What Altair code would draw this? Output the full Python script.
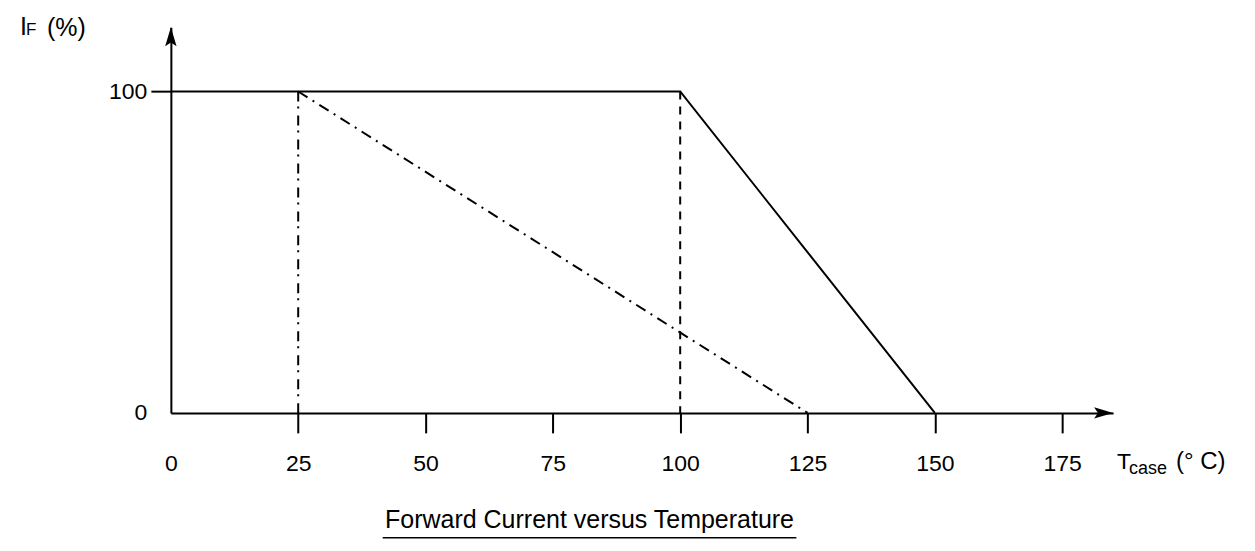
import altair as alt
import pandas as pd

# ---- data ----
solid_x = [0, 100, 150]
solid_y = [100, 100, 0]
dash_x = [100, 100]
dash_y = [100, 0]
dashdot_v_x = [25, 25]
dashdot_v_y = [100, 0]
dashdot_d_x = [25, 125]
dashdot_d_y = [100, 0]

x_ticks = [0, 25, 50, 75, 100, 125, 150, 175]
y_ticks = [0, 100]
x_max = 185
y_max = 120

FONT = "Liberation Sans"

x_scale = alt.Scale(domain=[0, x_max], nice=False, zero=False)
y_scale = alt.Scale(domain=[0, y_max], nice=False, zero=False)

no_zero_tick = {"condition": {"test": "datum.value === 0", "value": 0}, "value": 1}

x_axis = alt.Axis(values=x_ticks, title=None, grid=False, domain=True, domainColor="black",
                  domainWidth=2, ticks=True, tickSize=20, tickWidth=2, tickColor="black",
                  tickOpacity=no_zero_tick, labelPadding=20, labelFont=FONT, labelFontSize=23,
                  labelColor="black", labelBaseline="top", labelFlush=False, labelOverlap=False)
y_axis = alt.Axis(values=y_ticks, title=None, grid=False, domain=True, domainColor="black",
                  domainWidth=2, ticks=True, tickSize=20, tickWidth=2, tickColor="black",
                  tickOpacity=no_zero_tick, labelPadding=4, labelFont=FONT, labelFontSize=23,
                  labelColor="black", labelFlush=False, labelOverlap=False)


def line_layer(xs, ys, dash=None, width=2):
    df = pd.DataFrame({"x": xs, "y": ys, "i": list(range(len(xs)))})
    kw = dict(color="black", strokeWidth=width, clip=False)
    if dash:
        kw["strokeDash"] = dash
    return alt.Chart(df).mark_line(**kw).encode(
        x=alt.X("x:Q", scale=x_scale, axis=x_axis),
        y=alt.Y("y:Q", scale=y_scale, axis=y_axis),
        order="i:Q",
    )


solid = line_layer(solid_x, solid_y, width=2)
dashed = line_layer(dash_x, dash_y, dash=[8, 7], width=2)
dd_v = line_layer(dashdot_v_x, dashdot_v_y, dash=[10, 5, 2, 7], width=2)
dd_d = line_layer(dashdot_d_x, dashdot_d_y, dash=[11, 6, 2, 6], width=2)

up_arrow = alt.Chart(pd.DataFrame({"x": [0], "y": [y_max]})).mark_point(
    shape="M0,0 L0.3,1 L0,0.8 L-0.3,1 Z", size=1444, filled=True, color="black",
    opacity=1, strokeWidth=0, clip=False
).encode(x=alt.X("x:Q", scale=x_scale), y=alt.Y("y:Q", scale=y_scale))

right_arrow = alt.Chart(pd.DataFrame({"x": [x_max], "y": [0]})).mark_point(
    shape="M0,0 L-1,-0.3 L-0.8,0 L-1,0.3 Z", size=1444, filled=True, color="black",
    opacity=1, strokeWidth=0, clip=False
).encode(x=alt.X("x:Q", scale=x_scale), y=alt.Y("y:Q", scale=y_scale))


def text_layer(txt, px, py, size, align="left"):
    return alt.Chart(alt.Data(values=[{"t": txt}])).mark_text(
        font=FONT, fontSize=size, color="black", align=align, baseline="alphabetic"
    ).encode(text="t:N", x=alt.value(px), y=alt.value(py))


texts = [
    text_layer("I", -151, 8, 25),
    text_layer("F", -145, 8, 17),
    text_layer("(%)", -124, 9, 25),
    text_layer("T", 947, 442, 23),
    text_layer("case", 959, 447, 18),
    text_layer("(° C)", 1006, 442, 24),
    text_layer("Forward Current versus Temperature", 419, 501, 25, align="center"),
]

underline = alt.Chart(alt.Data(values=[{"a": 1}])).mark_rule(
    color="black", strokeWidth=1.5
).encode(x=alt.value(212), x2=alt.value(626), y=alt.value(511))

chart = alt.layer(solid, dashed, dd_v, dd_d, up_arrow, right_arrow, underline, *texts).properties(
    width=943, height=386,
    autosize=alt.AutoSizeParams(type="none"),
    padding={"left": 163, "top": 19, "right": 134, "bottom": 130},
    background="white",
).configure_view(stroke=None)

chart.save("out.html", embed_options={"renderer": "svg", "actions": False})
